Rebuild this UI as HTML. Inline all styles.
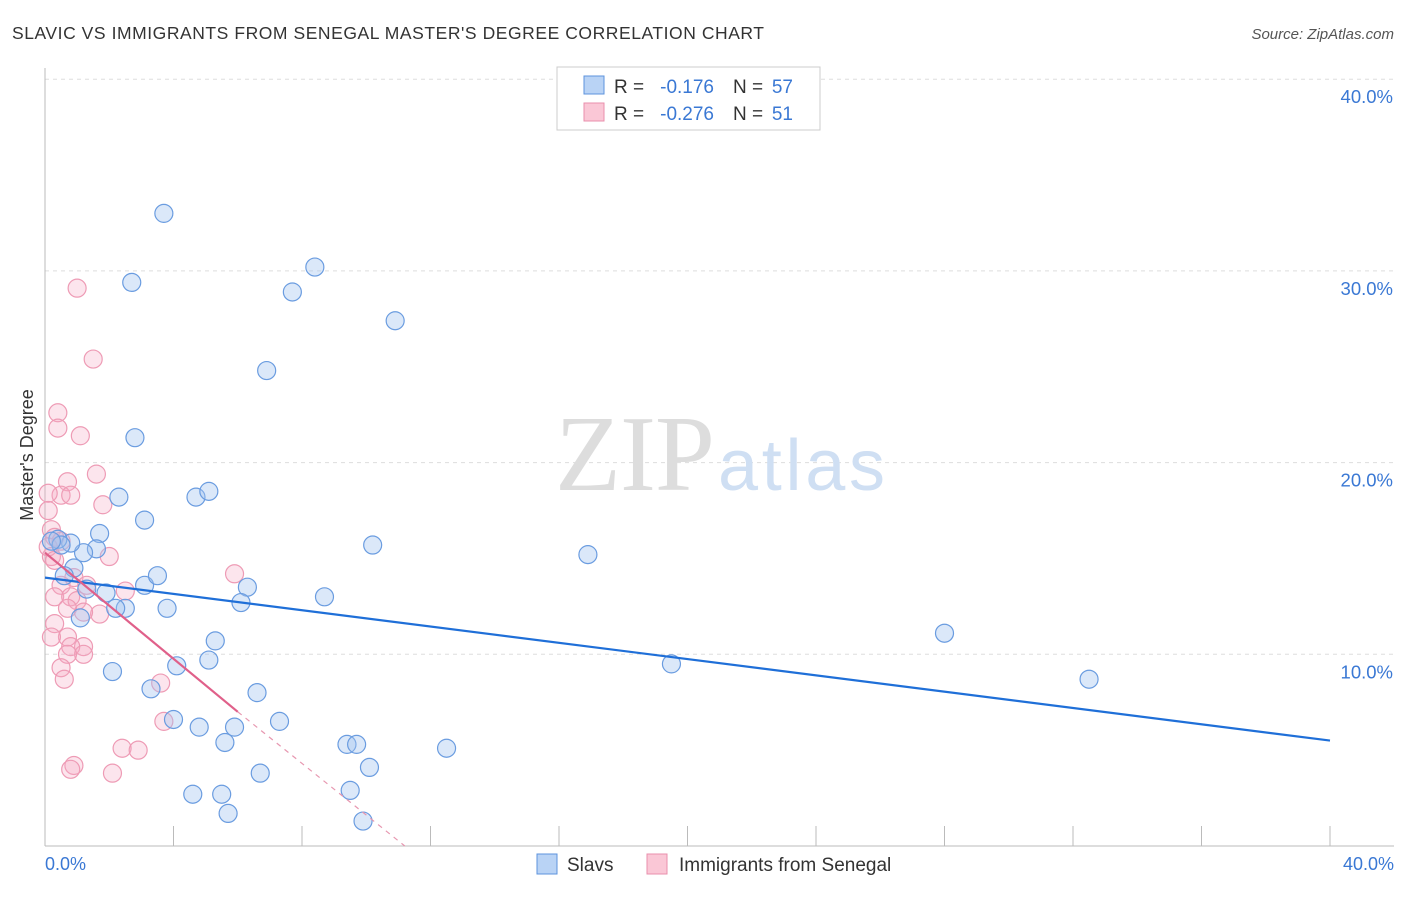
<!DOCTYPE html>
<html><head><meta charset="utf-8"><style>
body{margin:0;background:#fff;font-family:"Liberation Sans",sans-serif;}
</style></head><body>
<svg width="1406" height="892" xmlns="http://www.w3.org/2000/svg">
<text x="12" y="39" font-size="17.5" fill="#333" textLength="752">SLAVIC VS IMMIGRANTS FROM SENEGAL MASTER'S DEGREE CORRELATION CHART</text>
<text x="1394" y="39" font-size="15" fill="#555" font-style="italic" text-anchor="end">Source: ZipAtlas.com</text>
<g id="grid"></g>
<line x1="45" y1="68" x2="45" y2="846" stroke="#bbb"/>
<line x1="45" y1="846" x2="1394" y2="846" stroke="#bbb"/>
<text x="33" y="455" font-size="18" fill="#333" text-anchor="middle" transform="rotate(-90 33 455)">Master's Degree</text>
<text x="555" y="490" font-size="108" fill="#ddd" textLength="160" font-family="Liberation Serif,serif">ZIP</text>
<text x="718" y="490" font-size="72" fill="#cfdff3" textLength="167">atlas</text>
<g id="pts"></g>
<g id="lines"></g>
<text x="45" y="870" font-size="18" fill="#3a78d4">0.0%</text>
<text x="1394" y="870" font-size="18" fill="#3a78d4" text-anchor="end">40.0%</text>
<rect x="557" y="67" width="263" height="63" fill="#fff" stroke="#ccc"/>
<rect x="584" y="76" width="20" height="18" fill="#b9d3f5" stroke="#5d93dd"/>
<rect x="584" y="103" width="20" height="18" fill="#fac7d6" stroke="#e98fac"/>
<g font-size="19" fill="#333">
<text x="614" y="93">R =</text>
<text x="714" y="93" text-anchor="end" fill="#3a78d4">-0.176</text>
<text x="733" y="93">N =</text>
<text x="793" y="93" text-anchor="end" fill="#3a78d4">57</text>
<text x="614" y="120">R =</text>
<text x="714" y="120" text-anchor="end" fill="#3a78d4">-0.276</text>
<text x="733" y="120">N =</text>
<text x="793" y="120" text-anchor="end" fill="#3a78d4">51</text>
</g>
<rect x="537" y="854" width="20" height="20" fill="#b9d3f5" stroke="#5d93dd"/>
<text x="567" y="871" font-size="19" fill="#333">Slavs</text>
<rect x="647" y="854" width="20" height="20" fill="#fac7d6" stroke="#e98fac"/>
<text x="679" y="871" font-size="19" fill="#333">Immigrants from Senegal</text>
</svg>
<script>
const yTicks=[10,20,30,40];
const xTicks=[4,8,12,16,20,24,28,32,36,40];
const slavsX=[3.7,2.7,8.4,7.7,10.9,6.9,2.8,2.3,4.7,5.1,3.1,1.7,10.2,16.9,1.6,1.2,0.8,0.4,0.5,0.9,0.6,1.3,1.9,2.5,2.2,3.1,3.5,6.3,6.1,3.8,8.7,1.1,28.0,5.3,5.1,4.1,19.5,2.1,32.5,3.3,6.6,4.0,7.3,4.8,5.9,5.6,9.4,9.7,12.5,10.1,6.7,9.5,4.6,5.5,5.7,9.9,0.2];
const slavsY=[33.0,29.4,30.2,28.9,27.4,24.8,21.3,18.2,18.2,18.5,17.0,16.3,15.7,15.2,15.5,15.3,15.8,16.0,15.7,14.5,14.1,13.4,13.2,12.4,12.4,13.6,14.1,13.5,12.7,12.4,13.0,11.9,11.1,10.7,9.7,9.4,9.5,9.1,8.7,8.2,8.0,6.6,6.5,6.2,6.2,5.4,5.3,5.3,5.1,4.1,3.8,2.9,2.7,2.7,1.7,1.3,15.9];
const senX=[1.0,1.5,0.4,0.4,1.1,1.6,0.7,0.5,0.8,0.1,1.8,0.1,0.2,0.3,0.5,0.2,2.0,5.9,0.9,0.5,1.3,2.5,0.3,0.8,1.0,0.7,1.7,1.2,0.3,0.7,1.2,0.8,1.2,0.7,0.5,0.6,3.6,3.7,2.4,2.9,0.9,0.8,2.1,0.1,0.3,0.2];
const senY=[29.1,25.4,22.6,21.8,21.4,19.4,19.0,18.3,18.3,18.4,17.8,17.5,16.5,16.1,15.9,15.1,15.1,14.2,14.0,13.6,13.6,13.3,13.0,13.0,12.8,12.4,12.1,12.2,11.6,10.9,10.4,10.4,10.0,10.0,9.3,8.7,8.5,6.5,5.1,5.0,4.2,4.0,3.8,15.6,14.9,10.9];
const slavLine=[[0,14.0],[40,5.5]];
const senSolid=[[0,15.3],[6.0,7.0]];
const senDash=[[6.0,7.0],[11.2,0]];
const NS="http://www.w3.org/2000/svg";
const X=v=>45+v*32.125, Y=v=>846-v*19.17;
const grid=document.getElementById('grid');
yTicks.forEach(t=>{
 const l=document.createElementNS(NS,'line');
 l.setAttribute('x1',45);l.setAttribute('x2',1394);l.setAttribute('y1',Y(t));l.setAttribute('y2',Y(t));
 l.setAttribute('stroke','#ddd');l.setAttribute('stroke-dasharray','4,4');
 
 
 grid.appendChild(l);
 const tx=document.createElementNS(NS,'text');
 tx.setAttribute('x',1393);tx.setAttribute('y',Y(t)+24);tx.setAttribute('text-anchor','end');
 tx.setAttribute('font-size','18.5');tx.setAttribute('fill','#3a78d4');tx.textContent=t.toFixed(1)+'%';
 
 
 grid.appendChild(tx);
});
xTicks.forEach(t=>{
 const l=document.createElementNS(NS,'line');
 l.setAttribute('x1',X(t));l.setAttribute('x2',X(t));l.setAttribute('y1',826);l.setAttribute('y2',846);
 l.setAttribute('stroke','#bbb');
 
 
 grid.appendChild(l);
});
const pts=document.getElementById('pts');
function dot(x,y,fill,stroke,name){
 const c=document.createElementNS(NS,'circle');
 c.setAttribute('cx',X(x));c.setAttribute('cy',Y(y));c.setAttribute('r',9);
 c.setAttribute('fill',fill);c.setAttribute('stroke',stroke);c.setAttribute('stroke-width','1.2');
 
 
 pts.appendChild(c);
}
senX.forEach((x,i)=>dot(x,senY[i],'rgba(246,170,195,0.3)','#ee9bb5','senegal-point'));
slavsX.forEach((x,i)=>dot(x,slavsY[i],'rgba(160,195,240,0.38)','#6a9ce0','slavs-point'));
const lines=document.getElementById('lines');
function ln(p,color,w,dash,name){
 const l=document.createElementNS(NS,'line');
 l.setAttribute('x1',X(p[0][0]));l.setAttribute('y1',Y(p[0][1]));l.setAttribute('x2',X(p[1][0]));l.setAttribute('y2',Y(p[1][1]));
 l.setAttribute('stroke',color);l.setAttribute('stroke-width',w);if(dash)l.setAttribute('stroke-dasharray',dash);
 
 
 lines.appendChild(l);
}
ln(slavLine,'#1f6fd8',2.2,null,'slavs-trendline');
ln(senSolid,'#e0608a',2.2,null,'senegal-trendline');
ln(senDash,'#e797b0',1.2,'5,5','senegal-trendline-extension');
</script>
</body></html>
